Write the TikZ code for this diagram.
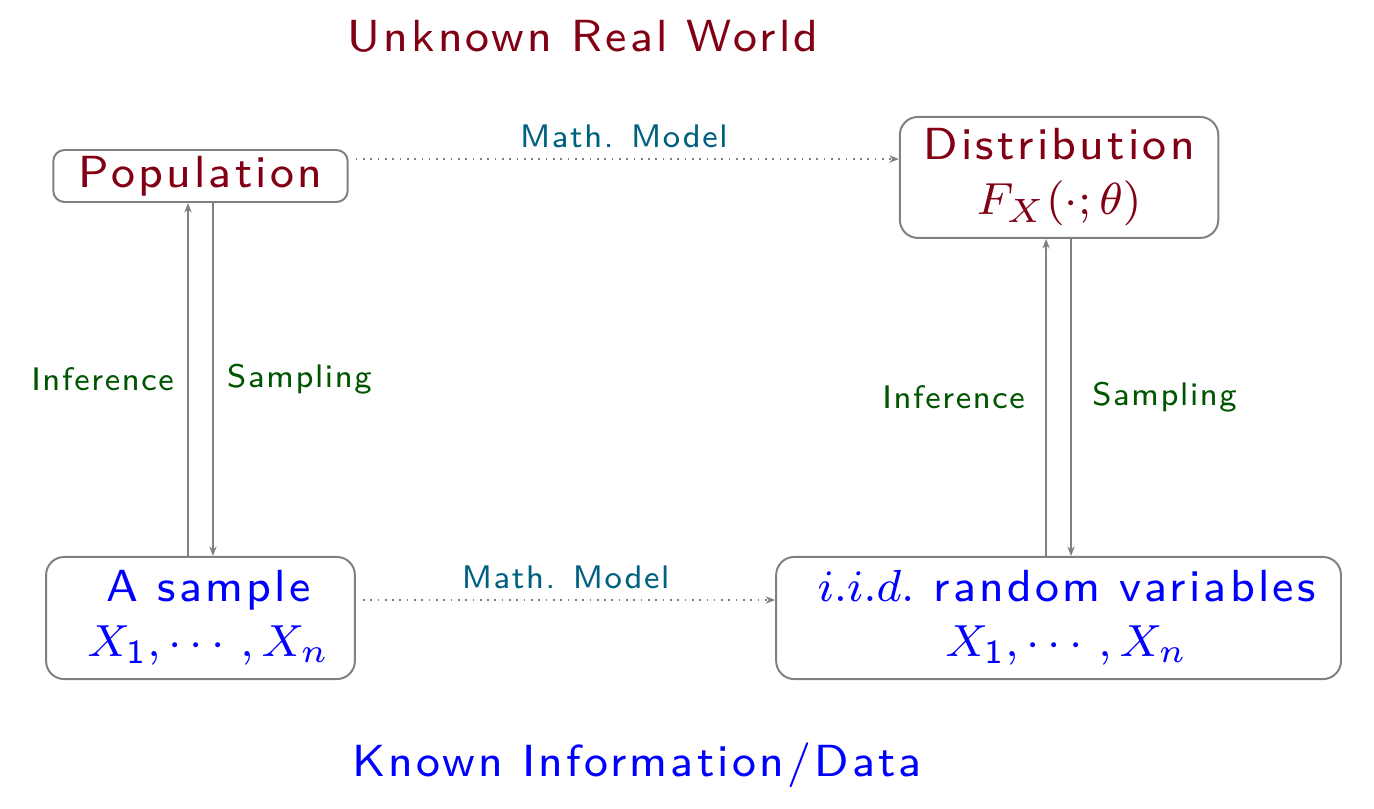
\documentclass[tikz,border=0pt]{standalone}
\usepackage{amsmath,amssymb}
\usepackage{tikz}
\usetikzlibrary{arrows.meta,positioning,calc}
\definecolor{worldred}{RGB}{130,0,20}
\definecolor{modelteal}{RGB}{0,96,128}
\definecolor{infgreen}{RGB}{0,85,0}
\font\bigsf="[lmsans8-regular]:mapping=tex-text;letterspace=7.2" at 8pt
\font\smallsf="[lmsans8-regular]:mapping=tex-text;letterspace=5" at 5.8pt

\begin{document}
\begin{tikzpicture}[font=\fontsize{8}{9.8}\selectfont\bigsf,
    box/.style={draw=gray,line width=0.35pt,rounded corners=3.2pt,align=center,inner sep=0pt},
    lbl/.style={font=\fontsize{5.8}{7}\selectfont\smallsf},
    link/.style={gray,line width=0.3pt,-{Stealth[length=1.7pt,width=1.3pt]}},
    model/.style={link,densely dotted}]
  \useasboundingbox (0,0) rectangle (8.5875,-5.05);
  \node[text=worldred] (real) at (3.644,-0.23) {Unknown Real World};
  \node[text=blue] (known) at (3.981,-4.78) {Known Information/Data};
  \node[box,text=worldred,rounded corners=2pt,minimum width=1.84cm,minimum height=0.325cm] (pop)
    at (1.253,-1.1) {Population};
  \node[box,text=worldred,minimum width=1.99cm,minimum height=0.756cm] (dist) at (6.619,-1.109)
    {Distribution\\$F_X(\cdot;\theta)$};
  \node[box,text=blue,minimum width=1.93cm,minimum height=0.763cm] (smp) at (1.253,-3.8625)
    {\hspace{0.1cm}A sample\\\hspace{0.1cm}$X_{\mathsf{1}},\cdots,X_n$};
  \node[box,text=blue,minimum width=3.53cm,minimum height=0.763cm] (iid) at (6.616,-3.8625)
    {\hspace{0.1cm}$i.i.d.$ random variables\\\hspace{0.1cm}$X_{\mathsf{1}},\cdots,X_n$};
  \draw[model] ([xshift=1.25pt,yshift=0.106cm]pop.east) -- ([yshift=0.106cm]pop.east -| dist.west)
    node[lbl,text=modelteal,midway,above,yshift=-1.5pt,xshift=-0.6pt] (m1) {Math. Model};
  \draw[model] ([xshift=1.25pt,yshift=0.1125cm]smp.east) -- ([yshift=0.1125cm]smp.east -| iid.west)
    node[lbl,text=modelteal,midway,above,yshift=-1.5pt,xshift=-0.6pt] (m2) {Math. Model};
  \foreach \lo/\hi/\dx in {smp/pop/1.25pt,iid/dist/0pt}{
    \draw[link] ([xshift=-0.078cm]\lo.north) -- ([xshift=-0.078cm]\lo.north |- \hi.south)
      node[lbl,text=infgreen,midway,left,xshift=-0.3pt+\dx] {Inference};
    \draw[link] ([xshift=0.078cm]\lo.north |- \hi.south) -- ([xshift=0.078cm]\lo.north)
      node[lbl,text=infgreen,midway,right,xshift=0.3pt-\dx] {Sampling};
  }
\end{tikzpicture}
\end{document}
